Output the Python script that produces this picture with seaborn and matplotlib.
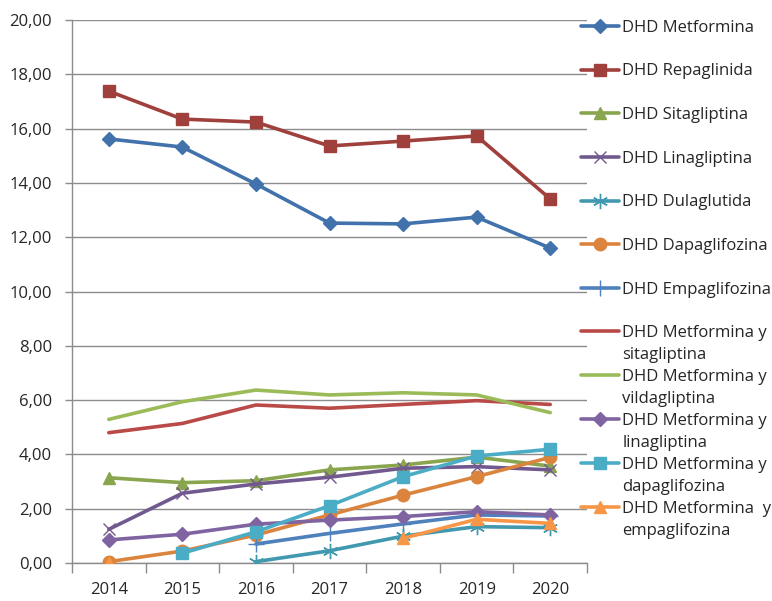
import numpy as np
import pandas as pd
import matplotlib.pyplot as plt
from matplotlib.lines import Line2D
from matplotlib.ticker import FuncFormatter, FixedLocator
import seaborn as sns

sns.set_style("white")
plt.rcParams['font.family'] = ['Open Sans', 'DejaVu Sans']

# datos (DHD por año)
years = [2014, 2015, 2016, 2017, 2018, 2019, 2020]
nan = np.nan
metformina = [15.62, 15.32, 13.96, 12.52, 12.49, 12.74, 11.60]
repaglinida = [17.38, 16.35, 16.24, 15.36, 15.54, 15.73, 13.41]
sitagliptina = [3.14, 2.96, 3.03, 3.43, 3.61, 3.90, 3.57]
linagliptina = [1.24, 2.57, 2.91, 3.16, 3.49, 3.55, 3.43]
dulaglutida = [nan, nan, 0.05, 0.45, 0.99, 1.34, 1.30]
dapaglifozina = [0.05, 0.44, 1.03, 1.77, 2.50, 3.18, 3.89]
empaglifozina = [nan, nan, 0.70, 1.09, 1.44, 1.77, 1.73]
met_sita = [4.80, 5.14, 5.82, 5.70, 5.84, 5.98, 5.84]
met_vilda = [5.29, 5.94, 6.37, 6.19, 6.27, 6.19, 5.54]
met_lina = [0.85, 1.06, 1.43, 1.58, 1.71, 1.89, 1.77]
met_dapa = [nan, 0.36, 1.15, 2.11, 3.18, 3.94, 4.19]
met_empa = [0.00, nan, nan, nan, 0.91, 1.61, 1.46]

names = ["DHD Metformina", "DHD Repaglinida", "DHD Sitagliptina", "DHD Linagliptina",
         "DHD Dulaglutida", "DHD Dapaglifozina", "DHD Empaglifozina",
         "DHD Metformina y sitagliptina", "DHD Metformina y vildagliptina",
         "DHD Metformina y linagliptina", "DHD Metformina y dapaglifozina",
         "DHD Metformina  y empaglifozina"]
series = [metformina, repaglinida, sitagliptina, linagliptina, dulaglutida,
          dapaglifozina, empaglifozina, met_sita, met_vilda, met_lina, met_dapa, met_empa]

colors = ["#4172AC", "#A0403D", "#89A54E", "#71588F", "#4198AF", "#DB843D",
          "#4F81BD", "#B94A48", "#9BBB59", "#8064A2", "#4BACC6", "#F79646"]
markers = ["D", "s", "^", "x", (6, 2, 0), "o", "+", "", "", "D", "s", "^"]
msizes = [7, 9, 9, 9, 11, 9, 11, 0, 0, 7, 9, 9]

# tabla larga; cada tramo sin huecos es una "unidad" para no unir los vacíos
rows = []
for name, vals in zip(names, series):
    seg = 0
    prev_nan = False
    for yr, v in zip(years, vals):
        if np.isnan(v):
            prev_nan = True
            continue
        if prev_nan:
            seg += 1
            prev_nan = False
        rows.append({"serie": name, "year": yr, "valor": v, "tramo": f"{name}-{seg}"})
df = pd.DataFrame(rows)

fig = plt.figure(figsize=(7.72, 6.01), dpi=100)
ax = fig.add_axes([72 / 772, 38 / 601, 515 / 772, 543 / 601])

for name, col, mk, ms in zip(names, colors, markers, msizes):
    sub = df[df["serie"] == name]
    sns.lineplot(data=sub, x="year", y="valor", units="tramo", estimator=None,
                 color=col, marker=mk if mk else None, markersize=ms, lw=2.6,
                 sort=True, legend=False, ax=ax, zorder=3)

for ln in ax.lines:
    ln.set_markeredgecolor(ln.get_color())
    ln.set_markeredgewidth(1.0)

ax.set_xlim(2013.5, 2020.5)
ax.set_ylim(0, 20)
ax.set_xticks(years)
ax.set_xticklabels([str(y) for y in years])
ax.xaxis.set_minor_locator(FixedLocator(np.arange(2013.5, 2021, 1)))
ax.tick_params(axis="x", which="major", length=0, pad=14, labelsize=12, labelcolor="#262626")
ax.tick_params(axis="x", which="minor", length=7, width=1, color="#8c8c8c", direction="out", bottom=True)
ax.set_yticks(np.arange(0, 21, 2))
ax.yaxis.set_major_formatter(FuncFormatter(lambda v, p: f"{v:.2f}".replace(".", ",")))
ax.tick_params(axis="y", length=5, width=1, color="#8c8c8c", direction="out", left=True,
               pad=9.5, labelsize=12, labelcolor="#262626")
ax.grid(axis="y", color="#8c8c8c", lw=1)
ax.grid(axis="x", visible=False)
ax.set_axisbelow(True)
for s in ["top", "right"]:
    ax.spines[s].set_visible(False)
for s in ["left", "bottom"]:
    ax.spines[s].set_color("#8c8c8c")
    ax.spines[s].set_linewidth(1)
ax.set_xlabel("")
ax.set_ylabel("")

def handle(i):
    return Line2D([], [], color=colors[i], lw=2.6, marker=markers[i] if markers[i] else None,
                  markersize=msizes[i], markeredgecolor=colors[i], markeredgewidth=1.0)

blank = Line2D([], [], color="none")

h1 = [handle(i) for i in range(7)]
fig.legend(h1, names[:7], loc="upper left", bbox_to_anchor=(0.753, 0.967),
           frameon=False, borderpad=0, borderaxespad=0, handlelength=2.28,
           handletextpad=0.18, labelspacing=1.66, fontsize=12, labelcolor="#262626")

h2, l2 = [], []
for i in range(7, 12):
    first, second = names[i].rsplit(" ", 1)
    h2 += [handle(i), blank]
    l2 += [first, second]
fig.legend(h2, l2, loc="upper left", bbox_to_anchor=(0.753, 0.4597),
           frameon=False, borderpad=0, borderaxespad=0, handlelength=2.28,
           handletextpad=0.18, labelspacing=0.36, fontsize=12, labelcolor="#262626")

fig.savefig("out.png", dpi=100)
